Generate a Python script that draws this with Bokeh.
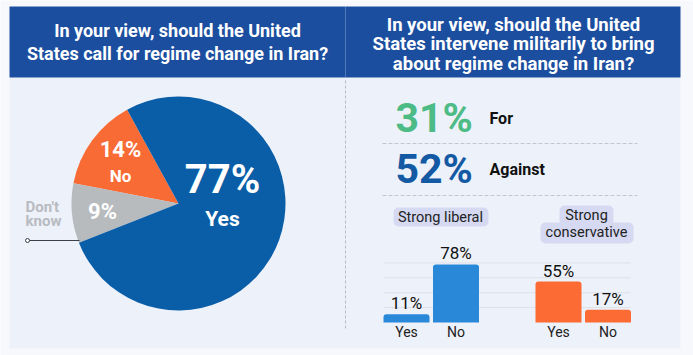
import math
from bokeh.plotting import figure
from bokeh.models import Range1d
from bokeh.core.properties import value
from bokeh.embed import file_html
from bokeh.resources import INLINE

# ---------------- data ----------------
pie_labels = ["Yes", "No", "Don't know"]
pie_values = [77, 14, 9]
pie_colors = ["#0a5ea7", "#f96b35", "#b8bbbe"]

summary_labels = ["For", "Against"]
summary_values = [31, 52]
summary_colors = ["#4dbb85", "#1459a3"]

groups = ["Strong liberal", "Strong conservative"]
answers = ["Yes", "No"]
liberal_values = [11, 78]
conservative_values = [55, 17]
group_colors = ["#2a88d9", "#fb6b33"]
grid_values = [20, 40, 60, 80]

title_left = ["In your view, should the United", "States call for regime change in Iran?"]
title_right = ["In your view, should the United", "States intervene militarily to bring",
               "about regime change in Iran?"]

# ---------------- style ----------------
W, H = 693, 355
FONT = "Roboto"
OUTER = "#f7f8fc"
BODY = "#edf1fa"
HEAD = "#1c4e9f"

def Y(v):
    return H - v

p = figure(width=W, height=H, x_range=Range1d(0, W), y_range=Range1d(0, H),
           output_backend="svg", toolbar_location=None, min_border=0,
           x_axis_location=None, y_axis_location=None)
p.grid.visible = False
p.outline_line_color = None
p.background_fill_color = OUTER
p.border_fill_color = OUTER

# bar scale: baseline at screen y=322, 0.745 px per percent
base_y = H - 322
k = 0.745
p.extra_y_ranges = {"pct": Range1d(start=-base_y / k, end=(H - base_y) / k)}

def txt(x, y, s, size, color, bold=False, align="center", font=FONT):
    p.text(x=[x], y=[Y(y)], text=[s], text_font=value(font),
           text_font_size=f"{size}px", text_font_style="bold" if bold else "normal",
           text_color=color, text_align=align, text_baseline="middle")

# backgrounds
p.quad(left=[9], right=[680], bottom=[Y(348)], top=[Y(77)], fill_color=BODY, line_color=None)
p.quad(left=[9, 345], right=[345, 680], bottom=[Y(77)] * 2, top=[Y(6)] * 2,
       fill_color=HEAD, line_color=None)

# headers
for i, s in enumerate(title_left):
    txt(177, 30 + i * 23, s, 18, "white", bold=True)
for i, s in enumerate(title_right):
    txt(513, 24 + i * 19.5, s, 18.5, "white", bold=True)

# divider
p.segment(x0=[345], y0=[Y(80)], x1=[345], y1=[Y(328)], line_color="#b6bac4",
          line_dash="3 2", line_width=1)

# ---------------- pie ----------------
cx, cy, r = 178, 203, 107
order = [1, 2, 0]
start = math.radians(118.7)
total = sum(pie_values)
for i in order:
    span = 2 * math.pi * pie_values[i] / total
    p.wedge(x=[cx], y=[Y(cy)], radius=r, radius_units="screen",
            start_angle=start, end_angle=start + span,
            fill_color=pie_colors[i], line_color=None)
    start += span

txt(222, 179, f"{pie_values[0]}%", 40, "white", bold=True)
txt(222, 218, pie_labels[0], 21, "white", bold=True)
txt(120, 149, f"{pie_values[1]}%", 22, "white", bold=True)
txt(120, 175, pie_labels[1], 17, "white", bold=True)
txt(102, 211, f"{pie_values[2]}%", 22, "white", bold=True)
dk = pie_labels[2].split(" ")
txt(25, 206, dk[0], 15, "#b8bbc0", bold=True, align="left")
txt(25, 220, dk[1], 15, "#b8bbc0", bold=True, align="left")
p.segment(x0=[27], y0=[Y(240)], x1=[79], y1=[Y(240)], line_color="#3a3f4a", line_width=1.2)
p.scatter(x=[27], y=[Y(240)], size=4, fill_color="white", line_color="#3a3f4a", line_width=1)

# ---------------- summary ----------------
for i, (lab, v, c) in enumerate(zip(summary_labels, summary_values, summary_colors)):
    yy = 117 + i * 51
    txt(395, yy, f"{v}%", 41, c, bold=True, align="left")
    txt(489, yy + 1, lab, 16, "#111111", bold=True, align="left")
p.segment(x0=[382, 382], y0=[Y(143), Y(195)], x1=[637, 637], y1=[Y(143), Y(195)],
          line_color="#c3c6ce", line_dash="4 2", line_width=1)

# ---------------- bars ----------------
p.segment(x0=[383] * len(grid_values), x1=[630] * len(grid_values),
          y0=grid_values, y1=grid_values, y_range_name="pct",
          line_color="#dde0e9", line_width=1)

x_first, step, gstep, bw = 406, 49.5, 152, 46
for g, vals in enumerate([liberal_values, conservative_values]):
    xs = [x_first + g * gstep + j * step for j in range(len(answers))]
    p.vbar(x=xs, width=bw, top=vals, bottom=0, y_range_name="pct",
           fill_color=group_colors[g], line_color=None, border_radius=[3, 3, 0, 0])
    p.text(x=xs, y=vals, text=[f"{v}%" for v in vals], y_range_name="pct", y_offset=-11,
           text_font=value(FONT), text_font_size="17px", text_color="#111111",
           text_align="center", text_baseline="middle")
    p.text(x=xs, y=[0, 0], text=answers, y_range_name="pct", y_offset=9,
           text_font=value(FONT), text_font_size="14px", text_color="#222222",
           text_align="center", text_baseline="middle")

LAV = "#d5d9f1"
p.quad(left=[393], right=[488], bottom=[Y(226)], top=[Y(207)], fill_color=LAV,
       line_color=None, border_radius=5)
p.quad(left=[559], right=[613], bottom=[Y(225)], top=[Y(205)], fill_color=LAV,
       line_color=None, border_radius=5)
p.quad(left=[540], right=[633], bottom=[Y(243)], top=[Y(222)], fill_color=LAV,
       line_color=None, border_radius=5)
txt(440, 217, groups[0], 14.5, "#222222")
g2 = groups[1].split(" ")
txt(586, 215, g2[0], 14.5, "#222222")
txt(586, 232, g2[1], 14.5, "#222222")

open("out.html", "w").write(file_html(p, INLINE))
